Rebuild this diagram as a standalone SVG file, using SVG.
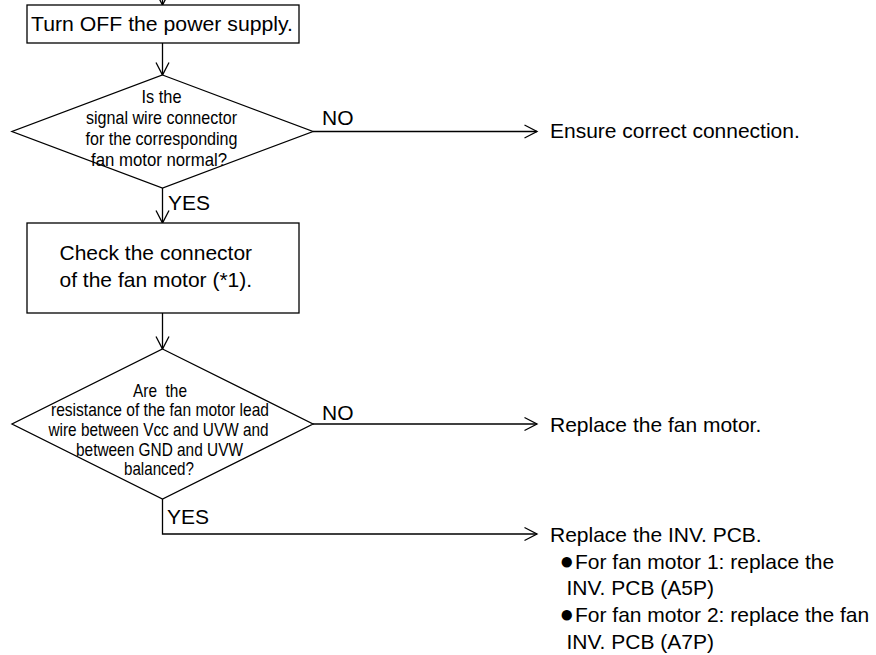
<svg xmlns="http://www.w3.org/2000/svg" width="876" height="655" viewBox="0 0 876 655">
<defs>
<style>
.box{fill:#fff;stroke:#000;stroke-width:1.3}
.ln{fill:none;stroke:#000;stroke-width:1.3}
.t{font-family:"Liberation Sans",Arial,Helvetica,sans-serif;font-size:21px;fill:#000}
.c{font-family:"Liberation Sans",Arial,Helvetica,sans-serif;font-size:18.5px;fill:#000;text-anchor:middle}
.b{font-family:"Liberation Sans",Arial,Helvetica,sans-serif;font-size:24px;fill:#000}
</style>
<marker id="arr" markerUnits="userSpaceOnUse" markerWidth="16" markerHeight="16" refX="12.5" refY="7" orient="auto" overflow="visible">
<path d="M0,0.5 L12.5,7 L0,13.5" fill="none" stroke="#000" stroke-width="1.3"/>
</marker>
</defs>
<rect width="876" height="655" fill="#fff"/>
<g id="connectors">
<line class="ln" x1="162.5" y1="-10" x2="162.5" y2="5" marker-end="url(#arr)"/>
<line class="ln" x1="162.5" y1="43" x2="162.5" y2="75" marker-end="url(#arr)"/>
<line class="ln" x1="313" y1="131.5" x2="537" y2="131.5" marker-end="url(#arr)"/>
<line class="ln" x1="162.5" y1="188" x2="162.5" y2="223" marker-end="url(#arr)"/>
<line class="ln" x1="162.5" y1="313" x2="162.5" y2="349" marker-end="url(#arr)"/>
<line class="ln" x1="313" y1="424" x2="537" y2="424" marker-end="url(#arr)"/>
<polyline class="ln" points="162.5,499 162.5,534 537,534" marker-end="url(#arr)"/>
<text class="t" x="322" y="125">NO</text>
<text class="t" x="168" y="210">YES</text>
<text class="t" x="322" y="420">NO</text>
<text class="t" x="167" y="524">YES</text>
</g>
<g id="n_power">
<rect class="box" x="27" y="5" width="272" height="38"/>
<text class="t" x="31" y="31" font-size="20" textLength="262" lengthAdjust="spacingAndGlyphs">Turn OFF the power supply.</text>
</g>
<g id="d_signal">
<polygon class="box" points="162.5,75 313,131.5 162.5,188 12,131.5"/>
<text class="c" x="161.5" y="103" textLength="40" lengthAdjust="spacingAndGlyphs">Is the</text>
<text class="c" x="161.5" y="124" textLength="151" lengthAdjust="spacingAndGlyphs">signal wire connector</text>
<text class="c" x="161.5" y="145" textLength="152" lengthAdjust="spacingAndGlyphs">for the corresponding</text>
<text class="c" x="159" y="165.5" textLength="136" lengthAdjust="spacingAndGlyphs">fan motor normal?</text>
</g>
<g id="n_ensure">
<text class="t" x="550" y="138">Ensure correct connection.</text>
</g>
<g id="n_check">
<rect class="box" x="27" y="223" width="272" height="90"/>
<text class="t" x="59.5" y="260">Check the connector</text>
<text class="t" x="59.5" y="286.5">of the fan motor (*1).</text>
</g>
<g id="d_resistance">
<polygon class="box" points="162.5,349 313,424 162.5,499 12,424"/>
<text class="c" x="160" y="396.5" xml:space="preserve" style="white-space:pre" textLength="54" lengthAdjust="spacingAndGlyphs">Are  the</text>
<text class="c" x="160" y="415.5" textLength="218" lengthAdjust="spacingAndGlyphs">resistance of the fan motor lead</text>
<text class="c" x="158.5" y="435.5" textLength="220" lengthAdjust="spacingAndGlyphs">wire between Vcc and UVW and</text>
<text class="c" x="159.5" y="455.5" textLength="167" lengthAdjust="spacingAndGlyphs">between GND and UVW</text>
<text class="c" x="159" y="475" textLength="70" lengthAdjust="spacingAndGlyphs">balanced?</text>
</g>
<g id="n_replace_fan">
<text class="t" x="550" y="431.5">Replace the fan motor.</text>
</g>
<g id="n_replace_inv">
<text class="t" x="550" y="541.5">Replace the INV. PCB.</text>
<text class="b" x="559.5" y="569">●</text>
<text class="t" x="575" y="568.5">For fan motor 1: replace the</text>
<text class="t" x="566.5" y="595">INV. PCB (A5P)</text>
<text class="b" x="559.5" y="622">●</text>
<text class="t" x="575" y="621.5">For fan motor 2: replace the fan</text>
<text class="t" x="566.5" y="648.5">INV. PCB (A7P)</text>
</g>
</svg>
